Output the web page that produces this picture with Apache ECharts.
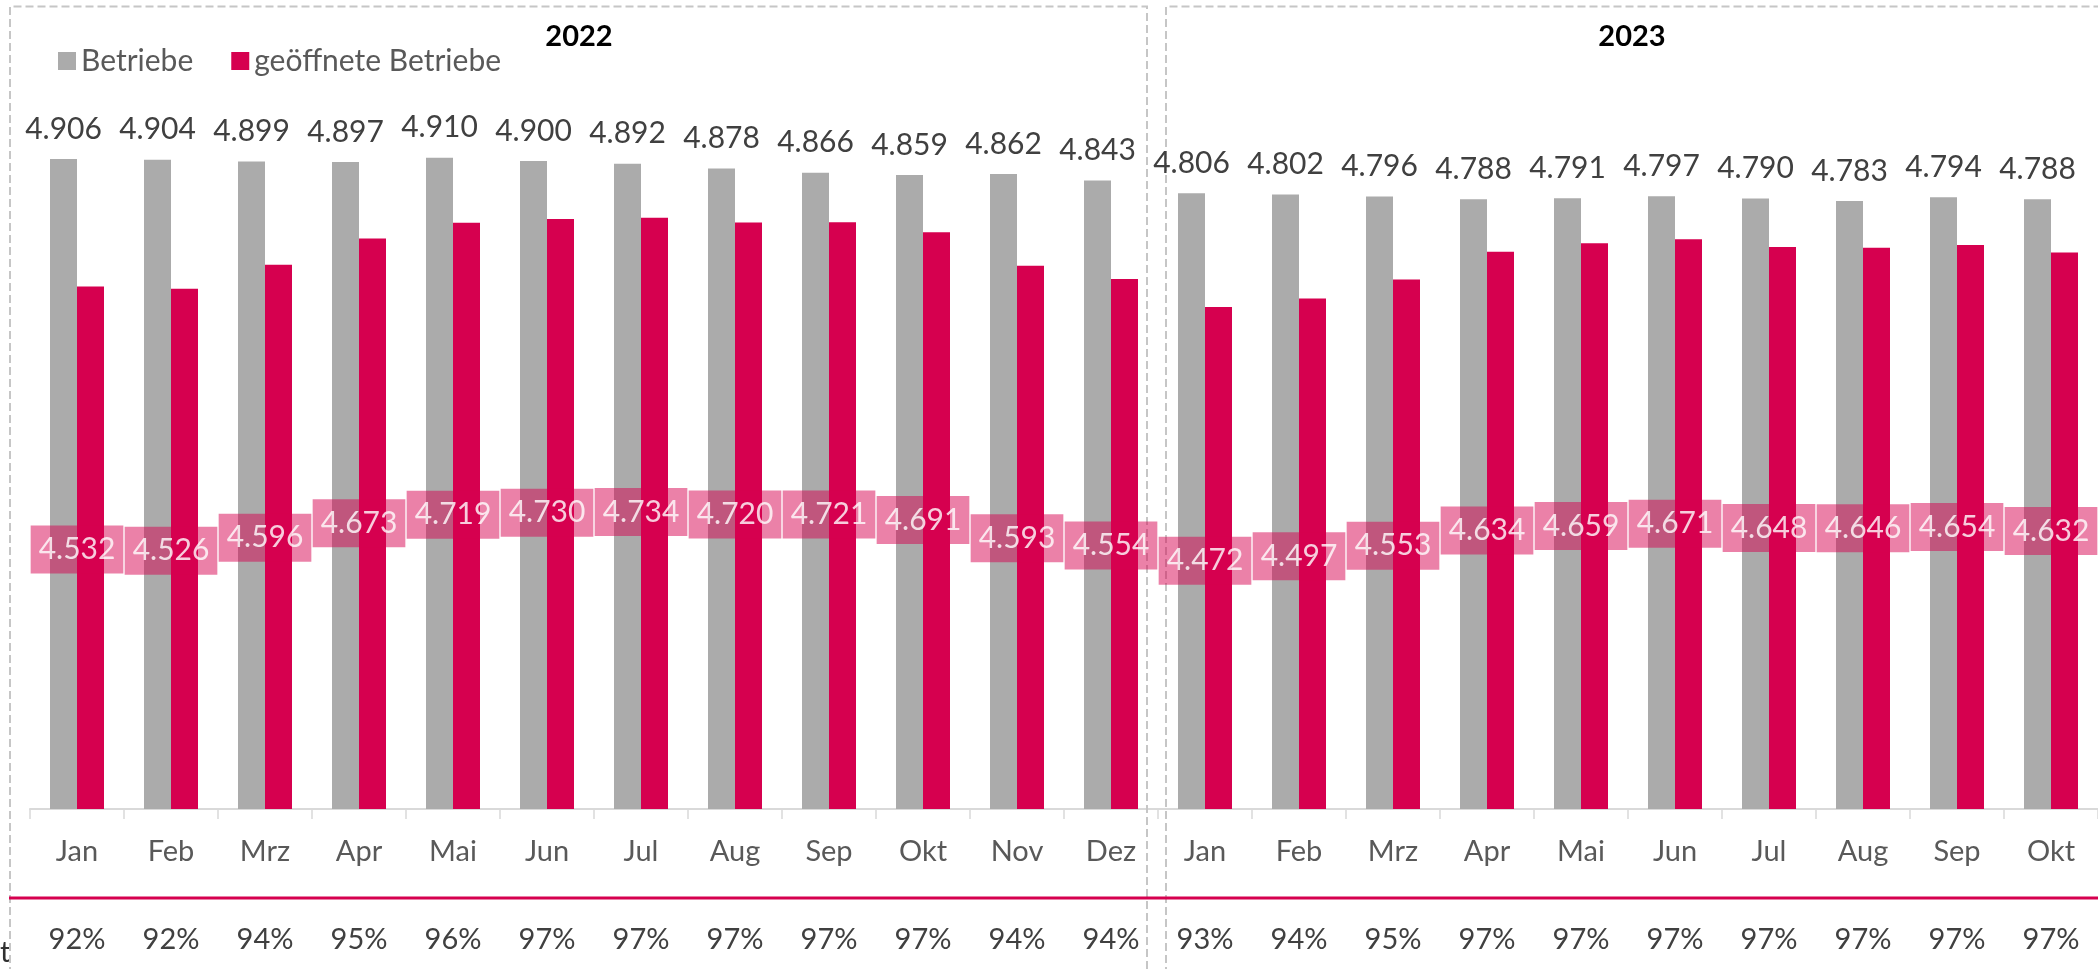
<!DOCTYPE html>
<html>
<head>
<meta charset="utf-8">
<script src="https://cdn.jsdelivr.net/npm/echarts@6/dist/echarts.min.js"></script>
<style>
html,body{margin:0;padding:0;background:#fff;}
#chart{width:2098px;height:969px;}
</style>
</head>
<body>
<div id="chart"></div>
<script>
const months = ['Jan','Feb','Mrz','Apr','Mai','Jun','Jul','Aug','Sep','Okt','Nov','Dez',
                'Jan','Feb','Mrz','Apr','Mai','Jun','Jul','Aug','Sep','Okt'];
const betriebe = [4906,4904,4899,4897,4910,4900,4892,4878,4866,4859,4862,4843,
                  4806,4802,4796,4788,4791,4797,4790,4783,4794,4788];
const geoeffnet = [4532,4526,4596,4673,4719,4730,4734,4720,4721,4691,4593,4554,
                   4472,4497,4553,4634,4659,4671,4648,4646,4654,4632];
const anteil = ['92%','92%','94%','95%','96%','97%','97%','97%','97%','97%','94%','94%',
                '93%','94%','95%','97%','97%','97%','97%','97%','97%','97%'];
const years = ['2022','2023'];

const FONT = 'Lato';
const fmt = v => String(v).replace(/(\d)(?=(\d{3})+$)/, '$1.');

const chart = echarts.init(document.getElementById('chart'), null, {renderer:'canvas'});
const dash = {stroke:'#C6C6C6', lineWidth:2, lineDash:[8,4], fill:null};

chart.setOption({
  animation:false,
  textStyle:{fontFamily:FONT},
  legend:{
    left:53, top:41, itemWidth:18, itemHeight:18, itemGap:38, icon:'rect',
    data:['Betriebe','geöffnete Betriebe'],
    textStyle:{fontSize:30, color:'#595959', fontFamily:FONT}
  },
  grid:{left:30, top:127, width:2071, height:682},
  xAxis:[{
    type:'category', data:months, gridIndex:0,
    axisLine:{lineStyle:{color:'#D9D9D9', width:2}},
    axisTick:{show:true, length:10, lineStyle:{color:'#D9D9D9', width:1.5}},
    axisLabel:{interval:0, fontSize:29, color:'#595959', margin:28, fontFamily:FONT}
  },{
    type:'category', data:anteil, gridIndex:0, position:'bottom',
    axisLine:{show:false}, axisTick:{show:false},
    axisLabel:{interval:0, fontSize:29, color:'#404040', margin:116, fontFamily:FONT}
  }],
  yAxis:[
    {type:'value', min:3000, max:5000, show:false, splitLine:{show:false}},
    {type:'value', min:3140, max:6800, show:false, splitLine:{show:false}}
  ],
  series:[{
    name:'Betriebe', type:'bar', data:betriebe, barWidth:27, barGap:'0%',
    itemStyle:{color:'#ABABAB'},
    label:{show:true, position:'top', distance:15, fontSize:30, color:'#404040',
           fontFamily:FONT, formatter:p=>fmt(p.value)}
  },{
    name:'geöffnete Betriebe', type:'bar', data:geoeffnet, barWidth:27,
    itemStyle:{color:'#D6004F'}
  },{
    name:'labels', type:'scatter', yAxisIndex:1, data:geoeffnet, symbolSize:1,
    itemStyle:{color:'rgba(0,0,0,0)'}, z:5,
    label:{show:true, position:'inside', fontSize:30, color:'#fff', fontFamily:FONT,
           backgroundColor:'rgba(214,0,79,0.62)', padding:[9,8],
           formatter:p=>fmt(p.value)}
  }],
  graphic:[
    {type:'polyline', shape:{points:[[10,975],[10,6.5],[1147,6.5],[1147,975]]}, style:dash, z:1},
    {type:'polyline', shape:{points:[[1166,975],[1166,6.5],[2105,6.5]]}, style:dash, z:1},
    {type:'line', shape:{x1:9, y1:898, x2:2098, y2:898}, style:{stroke:'#D6004F', lineWidth:3}, z:1},
    {type:'text', style:{text:years[0], x:579, y:37, align:'center', verticalAlign:'middle',
      font:'bold 29px '+FONT, fill:'#000'}},
    {type:'text', style:{text:years[1], x:1632, y:37, align:'center', verticalAlign:'middle',
      font:'bold 29px '+FONT, fill:'#000'}},
    {type:'text', style:{text:'t', x:0, y:953, align:'left', verticalAlign:'middle',
      font:'29px '+FONT, fill:'#303030'}}
  ]
});
</script>
</body>
</html>
